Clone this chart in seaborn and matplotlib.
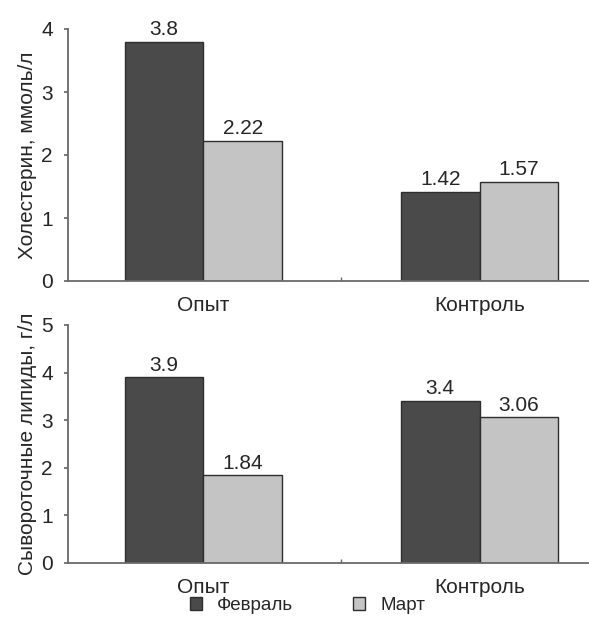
import matplotlib
matplotlib.use("Agg")
import matplotlib.pyplot as plt
import seaborn as sns
import pandas as pd
from matplotlib.ticker import FixedLocator

groups = ["Опыт", "Контроль"]
months = ["Февраль", "Март"]
cholesterol_feb = [3.8, 1.42]
cholesterol_mar = [2.22, 1.57]
lipids_feb = [3.9, 3.4]
lipids_mar = [1.84, 3.06]

palette = {"Февраль": "#4a4a4a", "Март": "#c4c4c4"}

sns.set_theme(style="white")
plt.rcParams["font.family"] = ["Liberation Sans", "DejaVu Sans"]

TEXT = "#262626"
AXIS = "#6a6a6a"


def long_frame(feb, mar):
    return pd.DataFrame({
        "group": groups * 2,
        "month": [months[0]] * len(groups) + [months[1]] * len(groups),
        "value": list(feb) + list(mar),
    })


fig = plt.figure(figsize=(5.89, 6.25), dpi=100)
ax_top = fig.add_axes([0.1155, 0.5504, 0.8845, 0.4032])
ax_bot = fig.add_axes([0.1155, 0.0992, 0.8845, 0.3808])

panels = [
    (ax_top, long_frame(cholesterol_feb, cholesterol_mar), "Холестерин, ммоль/л", 4),
    (ax_bot, long_frame(lipids_feb, lipids_mar), "Сывороточные липиды, г/л", 5),
]

for ax, df, ylabel, ymax in panels:
    sns.barplot(data=df, x="group", y="value", hue="month", order=groups,
                hue_order=months, palette=palette, width=0.57,
                edgecolor="#2e2e2e", linewidth=1.0, saturation=1,
                legend=(ax is ax_bot), ax=ax)
    for cont in ax.containers:
        ax.bar_label(cont, fmt="%g", padding=2, fontsize=15, color=TEXT)
    ax.set_ylim(0, ymax)
    ax.set_xlim(-0.49, 1.396)
    ax.set_yticks(range(0, ymax + 1))
    ax.set_xlabel("")
    ax.set_ylabel(ylabel, fontsize=15, color=TEXT, labelpad=3)
    for s in ["top", "right"]:
        ax.spines[s].set_visible(False)
    for s in ["left", "bottom"]:
        ax.spines[s].set_color(AXIS)
        ax.spines[s].set_linewidth(1.3)
    ax.tick_params(axis="y", direction="out", length=3, color=AXIS,
                   labelsize=15, labelcolor=TEXT, pad=8, left=True)
    ax.tick_params(axis="x", length=0, labelsize=15, labelcolor=TEXT, pad=11)
    ax.xaxis.set_minor_locator(FixedLocator([0.5]))
    ax.tick_params(axis="x", which="minor", direction="in", length=3,
                   color=AXIS, bottom=True)

handles, labels = ax_bot.get_legend_handles_labels()
ax_bot.get_legend().remove()
fig.legend(handles, labels, loc="center", bbox_to_anchor=(0.522, 0.031), ncol=2,
           frameon=False, fontsize=13.5, handlelength=0.65, handleheight=0.65,
           columnspacing=3.2, handletextpad=0.8, labelcolor=TEXT)

fig.savefig("out.png", dpi=100)
